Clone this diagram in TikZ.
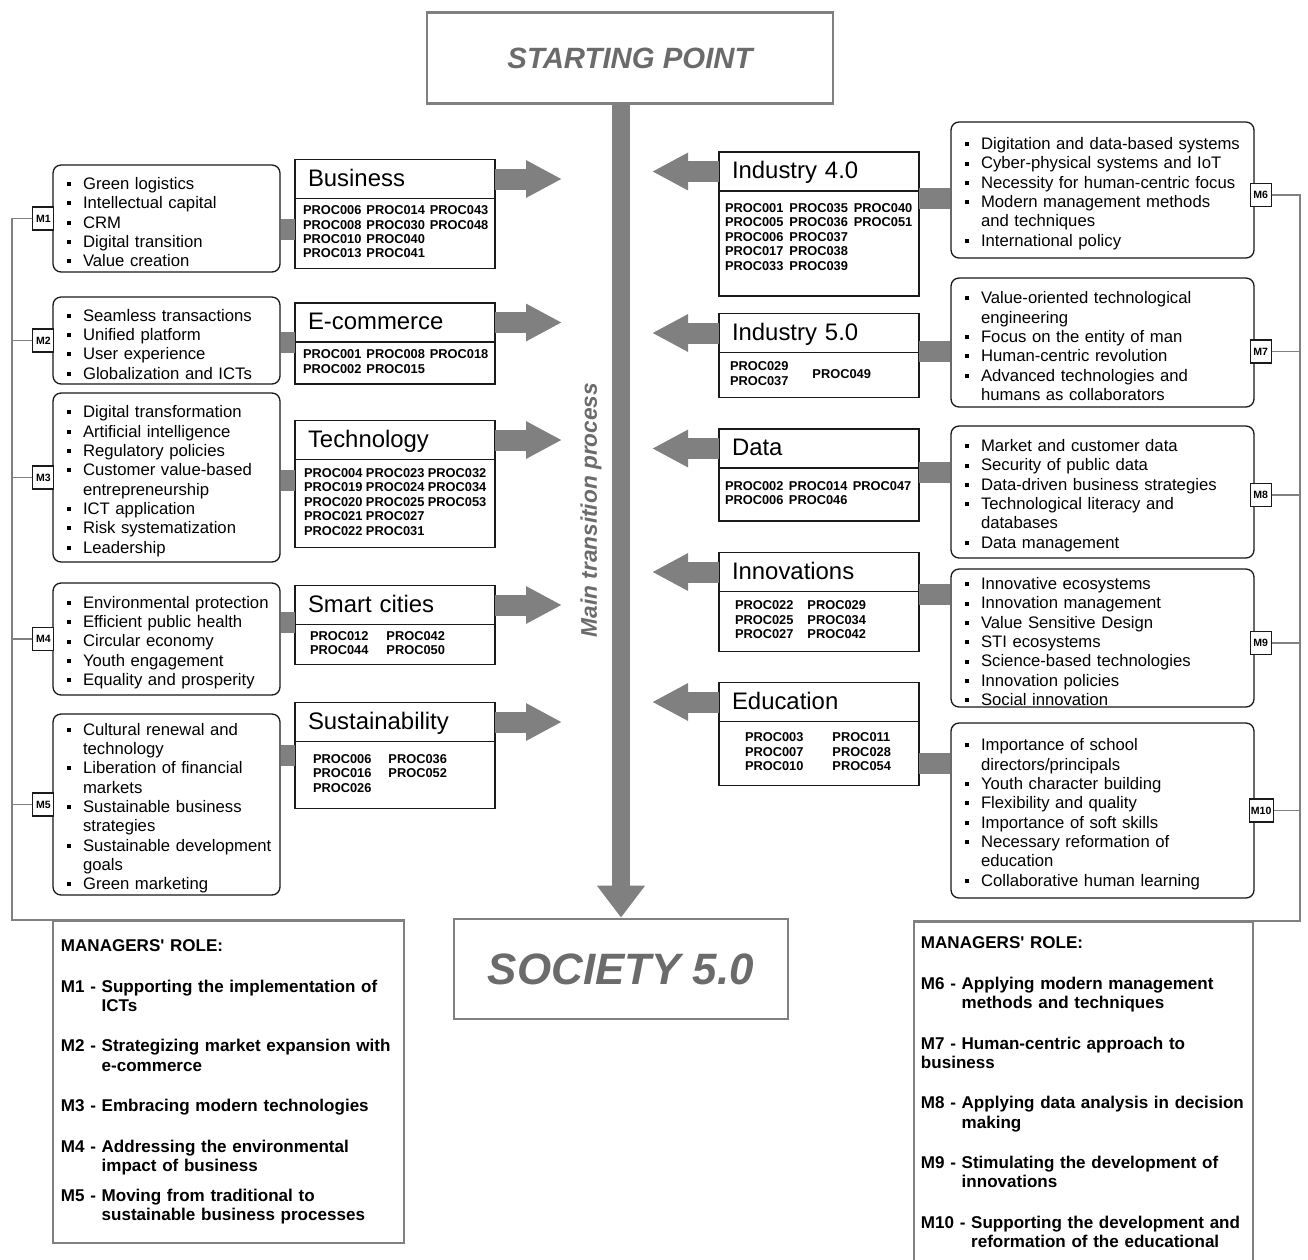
\documentclass[tikz,border=0pt]{standalone}
\usepackage{fontspec}
\setmainfont{Liberation Sans}
\usetikzlibrary{arrows.meta,positioning}
\definecolor{tpgray}{HTML}{808080}
\definecolor{tptext}{HTML}{6B6B6B}
\definecolor{tpink}{HTML}{1A1A1A}
\newlength\bins \setlength\bins{0.28cm}
\newlength\tins \setlength\tins{0.60cm}
\newcommand{\itm}[1]{\par\hangindent=\tins\hangafter=1\noindent
  \makebox[\tins][l]{\hspace*{\bins}\rule[0.2em]{0.24em}{0.24em}}#1\par}
\newcommand{\role}[2]{\par\setbox0=\hbox{#1}\hangindent=\wd0\hangafter=1\noindent\box0 #2\par}
\newenvironment{proctab}[2]{\hspace*{#1}\begin{tabular}{@{}l@{\hspace{#2}}l@{\hspace{#2}}l@{}}}{\end{tabular}}
\tikzset{
  tpend/.style={draw=tpgray, line width=1.6pt, text=tptext, font=\bfseries\itshape},
  tphead/.style={draw=tpink, line width=0.85pt, fill=white, outer sep=0pt, align=left,
    text width=3.48cm, inner xsep=0.26cm, inner ysep=0pt, minimum height=0.78cm,
    text height=0.9em, text depth=0.1em, font=\fontsize{13.6}{15}\selectfont},
  tpbody/.style={draw=tpink, line width=0.85pt, fill=white, outer sep=0pt, align=left,
    text width=3.76cm, inner xsep=0.12cm, inner ysep=0pt,
    font=\fontsize{7.3}{8.2}\selectfont\bfseries},
  tplist/.style={draw=tpink, line width=0.75pt, rounded corners=0.16cm, fill=white, align=left,
    inner xsep=0pt, inner ysep=0pt, font=\fontsize{9.5}{11}\selectfont},
  tpleft/.style={tplist, text width=4.54cm},
  tpright/.style={tplist, text width=6.06cm},
  tptag/.style={draw=tpink, line width=0.6pt, fill=white, inner sep=1pt,
    minimum width=0.42cm, minimum height=0.46cm, font=\fontsize{6}{7}\selectfont\bfseries},
  tprole/.style={draw=tpgray, line width=1.1pt, fill=white, anchor=north west, align=left,
    font=\fontsize{9.7}{11}\selectfont\bfseries},
  tpbus/.style={draw=tpgray, line width=0.7pt},
  tpbar/.style={draw=tpgray, line width=0.42cm},
  tparrow/.style={draw=tpgray, line width=0.42cm, -{Triangle[length=0.72cm,width=0.7cm]}},
  tpmain/.style={draw=tpgray, line width=0.36cm, -{Triangle[length=0.64cm,width=0.92cm]}}
}
\begin{document}
\begin{tikzpicture}[x=0.02cm, y=-0.02cm]
\useasboundingbox (0,0) rectangle (1308,1259);
\clip (0,0) rectangle (1308,1259);
\fill[white] (0,0) rectangle (1308,1259);

% main transition
\node[tpend, minimum width=8.12cm, minimum height=1.82cm, font=\fontsize{16.7}{20}\selectfont\bfseries\itshape] (start) at (630,58) {STARTING POINT};
\node[tpend, minimum width=6.68cm, minimum height=2.0cm, font=\fontsize{25}{30}\selectfont\bfseries\itshape] (soc) at (621,969) {SOCIETY 5.0};
\draw[tpmain] (start.south -| soc.north) -- (soc.north);
\node[rotate=90, text=tptext, font=\fontsize{12.9}{15}\selectfont\bfseries\itshape] (mtp) at (591,510) {Main transition process};
\coordinate (ltip) at (562,0);
\coordinate (rtip) at (652,0);

% left categories
\node[tphead] (bus) at (395,179) {Business};
\node[tpbody, below=0pt of bus, minimum height=1.40cm] (busp) {\begin{proctab}{0.04cm}{0.1cm}
PROC006 & PROC014 & PROC043\\
PROC008 & PROC030 & PROC048\\
PROC010 & PROC040 & \\
PROC013 & PROC041 & \end{proctab}};
\node[tphead] (ecom) at (395,322.5) {E-commerce};
\node[tpbody, below=0pt of ecom, minimum height=0.84cm] (ecomp) {\begin{proctab}{0.04cm}{0.1cm}
PROC001 & PROC008 & PROC018\\
PROC002 & PROC015 & \end{proctab}};
\node[tphead] (tech) at (395,440) {Technology};
\node[tpbody, below=0pt of tech, minimum height=1.76cm] (techp) {\begin{proctab}{0.06cm}{0.07cm}
PROC004 & PROC023 & PROC032\\
PROC019 & PROC024 & PROC034\\
PROC020 & PROC025 & PROC053\\
PROC021 & PROC027 & \\
PROC022 & PROC031 & \end{proctab}};
\node[tphead] (smart) at (395,605) {Smart cities};
\node[tpbody, below=0pt of smart, minimum height=0.80cm] (smartp) {\begin{proctab}{0.18cm}{0.36cm}
PROC012 & PROC042 & \\
PROC044 & PROC050 & \end{proctab}};
\node[tphead] (sust) at (395,722) {Sustainability};
\node[tpbody, below=0pt of sust, minimum height=1.34cm] (sustp) {\begin{proctab}{0.24cm}{0.34cm}
PROC006 & PROC036 & \\
PROC016 & PROC052 & \\
PROC026 & & \end{proctab}};

% right categories
\node[tphead] (ind4) at (819,171.5) {Industry 4.0};
\node[tpbody, below=0pt of ind4, minimum height=2.10cm] (ind4p) {\begin{proctab}{0cm}{0.12cm}
PROC001 & PROC035 & PROC040\\
PROC005 & PROC036 & PROC051\\
PROC006 & PROC037 & \\
PROC017 & PROC038 & \\
PROC033 & PROC039 & \\[0.2cm]\end{proctab}};
\node[tphead] (ind5) at (819,333) {Industry 5.0};
\node[tpbody, below=0pt of ind5, minimum height=0.90cm] (ind5p) {\hspace*{0.1cm}\begin{tabular}{@{}l@{}}PROC029\\PROC037\end{tabular}\hspace{0.48cm}PROC049};
\node[tphead] (data) at (819,448.5) {Data};
\node[tpbody, below=0pt of data, minimum height=1.06cm] (datap) {\begin{proctab}{0cm}{0.11cm}
PROC002 & PROC014 & PROC047\\
PROC006 & PROC046 & \end{proctab}};
\node[tphead] (innov) at (819,572) {Innovations};
\node[tpbody, below=0pt of innov, minimum height=1.20cm] (innovp) {\begin{proctab}{0.2cm}{0.28cm}
PROC022 & PROC029 & \\
PROC025 & PROC034 & \\
PROC027 & PROC042 & \end{proctab}};
\node[tphead] (educ) at (819,702) {Education};
\node[tpbody, below=0pt of educ, minimum height=1.28cm] (educp) {\begin{proctab}{0.4cm}{0.58cm}
PROC003 & PROC011 & \\
PROC007 & PROC028 & \\
PROC010 & PROC054 & \end{proctab}};

% left lists
\node[tpleft, minimum height=2.14cm] (b1) at (166.5,218.5) {\itm{Green logistics}\itm{Intellectual capital}\itm{CRM}\itm{Digital transition}\itm{Value creation}};
\node[tpleft, minimum height=1.74cm] (b2) at (166.5,340.5) {\itm{Seamless transactions}\itm{Unified platform}\itm{User experience}\itm{Globalization and ICTs}};
\node[tpleft, minimum height=3.38cm] (b3) at (166.5,477.5) {\itm{Digital transformation}\itm{Artificial intelligence}\itm{Regulatory policies}\itm{Customer value-based\newline entrepreneurship}\itm{ICT application}\itm{Risk systematization}\itm{Leadership}};
\node[tpleft, minimum height=2.24cm] (b4) at (166.5,639) {\itm{Environmental protection}\itm{Efficient public health}\itm{Circular economy}\itm{Youth engagement}\itm{Equality and prosperity}};
\node[tpleft, minimum height=3.62cm] (b5) at (166.5,804.5) {\itm{Cultural renewal and\newline technology}\itm{Liberation of financial\newline markets}\itm{Sustainable business\newline strategies}\itm{Sustainable development\newline goals}\itm{Green marketing}};

% right lists
\node[tpright, minimum height=2.72cm] (r1) at (1102.5,190) {\itm{Digitation and data-based systems}\itm{Cyber-physical systems and IoT}\itm{Necessity for human-centric focus}\itm{Modern management methods\newline and techniques}\itm{International policy}};
\node[tpright, minimum height=2.58cm] (r2) at (1102.5,342.5) {\itm{Value-oriented technological\newline engineering}\itm{Focus on the entity of man}\itm{Human-centric revolution}\itm{Advanced technologies and\newline humans as collaborators}};
\node[tpright, minimum height=2.64cm] (r3) at (1102.5,492) {\itm{Market and customer data}\itm{Security of public data}\itm{Data-driven business strategies}\itm{Technological literacy and\newline databases}\itm{Data management}};
\node[tpright, minimum height=2.76cm] (r4) at (1102.5,638) {\itm{Innovative ecosystems}\itm{Innovation management}\itm{Value Sensitive Design}\itm{STI ecosystems}\itm{Science-based technologies}\itm{Innovation policies}\itm{Social innovation}};
\node[tpright, minimum height=3.5cm] (r5) at (1102.5,810.5) {\itm{Importance of school\newline directors/principals}\itm{Youth character building}\itm{Flexibility and quality}\itm{Importance of soft skills}\itm{Necessary reformation of\newline education}\itm{Collaborative human learning}};

% bars between lists and categories
\draw[tpbar] (b1.east |- 0,229) -- (busp.west |- 0,229);
\draw[tpbar] (b2.east |- 0,342) -- (ecomp.west |- 0,342);
\draw[tpbar] (b3.east |- 0,480) -- (techp.west |- 0,480);
\draw[tpbar] (b4.east |- 0,622) -- (smart.west |- 0,622);
\draw[tpbar] (b5.east |- 0,755) -- (sustp.west |- 0,755);
\draw[tpbar] (ind4p.east |- 0,198) -- (r1.west |- 0,198);
\draw[tpbar] (ind5p.east |- 0,351) -- (r2.west |- 0,351);
\draw[tpbar] (datap.east |- 0,472) -- (r3.west |- 0,472);
\draw[tpbar] (innovp.east |- 0,594) -- (r4.west |- 0,594);
\draw[tpbar] (educp.east |- 0,763) -- (r5.west |- 0,763);

% arrows into the main line
\draw[tparrow] (bus.east) -- (bus.east -| ltip);
\draw[tparrow] (ecom.east) -- (ecom.east -| ltip);
\draw[tparrow] (tech.east) -- (tech.east -| ltip);
\draw[tparrow] (smart.east) -- (smart.east -| ltip);
\draw[tparrow] (sust.east) -- (sust.east -| ltip);
\draw[tparrow] (ind4.west) -- (ind4.west -| rtip);
\draw[tparrow] (ind5.west) -- (ind5.west -| rtip);
\draw[tparrow] (data.west) -- (data.west -| rtip);
\draw[tparrow] (innov.west) -- (innov.west -| rtip);
\draw[tparrow] (educ.west) -- (educ.west -| rtip);

% manager tags
\node[tptag, anchor=east, xshift=0.04cm] (m1) at (b1.west) {M1};
\node[tptag, anchor=east, xshift=0.04cm] (m2) at (b2.west) {M2};
\node[tptag, anchor=east, xshift=0.04cm] (m3) at (b3.west) {M3};
\node[tptag, anchor=east, xshift=0.04cm] (m4) at (b4.west) {M4};
\node[tptag, anchor=east, xshift=0.04cm] (m5) at (b5.west) {M5};
\node[tptag, anchor=west, xshift=-0.1cm, yshift=-0.1cm] (m6) at (r1.east) {M6};
\node[tptag, anchor=west, xshift=-0.1cm, yshift=-0.18cm] (m7) at (r2.east) {M7};
\node[tptag, anchor=west, xshift=-0.1cm, yshift=-0.06cm] (m8) at (r3.east) {M8};
\node[tptag, anchor=west, xshift=-0.1cm, yshift=-0.1cm] (m9) at (r4.east) {M9};
\node[tptag, anchor=west, xshift=-0.12cm] (m10) at (r5.east) {M10};

% managers' role boxes
\node[tprole, text width=6.7cm, inner xsep=0.16cm, minimum height=6.44cm] (lrole) at (52,920) {MANAGERS\textquotesingle{} ROLE:\par\vspace{12pt}
\role{M1 - }{Supporting the implementation of\newline ICTs}\vspace{12pt}
\role{M2 - }{Strategizing market expansion with\newline e-commerce}\vspace{12pt}
\role{M3 - }{Embracing modern technologies}\vspace{12pt}
\role{M4 - }{Addressing the environmental\newline impact of business}\vspace{6pt}
\role{M5 - }{Moving from traditional to\newline sustainable business processes}};
\node[tprole, text width=6.5cm, inner xsep=0.14cm, inner ysep=0.3cm] (rrole) at (913,921) {MANAGERS\textquotesingle{} ROLE:\par\vspace{12pt}
\role{M6 - }{Applying modern management\newline methods and techniques}\vspace{12pt}
\role{}{M7 - Human-centric approach to\newline business}\vspace{12pt}
\role{M8 - }{Applying data analysis in decision\newline making}\vspace{12pt}
\role{M9 - }{Stimulating the development of\newline innovations}\vspace{12pt}
\role{M10 - }{Supporting the development and\newline reformation of the educational}\rule{0pt}{12pt}};

% buses to the role boxes
\coordinate (lbus) at (12,920);
\coordinate (rbus) at (1300,921);
\draw[tpbus] (m1.west) -| (lbus) -- (lrole.north east);
\draw[tpbus] (m2.west) -- (m2.west -| lbus);
\draw[tpbus] (m3.west) -- (m3.west -| lbus);
\draw[tpbus] (m4.west) -- (m4.west -| lbus);
\draw[tpbus] (m5.west) -- (m5.west -| lbus);
\draw[tpbus] (m6.east) -| (rbus) -- (rrole.north west);
\draw[tpbus] (m7.east) -- (m7.east -| rbus);
\draw[tpbus] (m8.east) -- (m8.east -| rbus);
\draw[tpbus] (m9.east) -- (m9.east -| rbus);
\draw[tpbus] (m10.east) -- (m10.east -| rbus);
\end{tikzpicture}
\end{document}
